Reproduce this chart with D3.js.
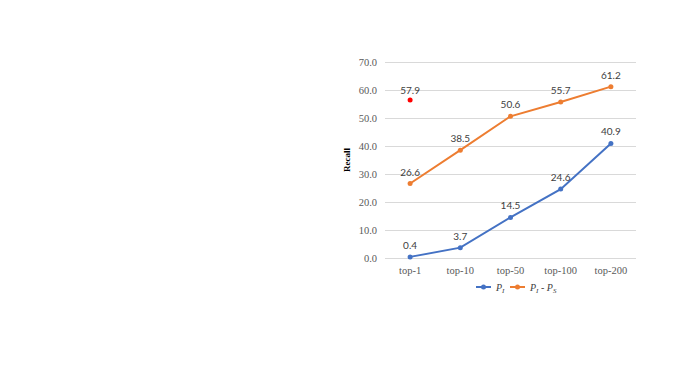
<!DOCTYPE html>
<meta charset="utf-8">
<head>
<script src="https://d3js.org/d3.v7.min.js"></script>
<style>
  body { margin: 0; background: #fff; }
  .grid line { stroke: #d9d9d9; stroke-width: 1px; }
  .tick-lab { font-family: "Liberation Serif", serif; font-size: 10.5px; fill: #595959; }
  .val { font-family: Lato, "Open Sans", sans-serif; font-size: 10px; fill: #404040; }
</style>
</head>
<body>
<div id="chart"></div>
<script>
// data
var categories = ["top-1", "top-10", "top-50", "top-100", "top-200"];
var pI = [0.4, 3.7, 14.5, 24.6, 40.9];
var pIpS = [26.6, 38.5, 50.6, 55.7, 61.2];
var extraValue = 56.4, extraLabel = "57.9";   // lone red point at top-1
var yTicks = [0, 10, 20, 30, 40, 50, 60, 70];

var W = 677, H = 379;
var margin = {top: 62, left: 385, right: 41, bottom: 121};
var width = W - margin.left - margin.right,
    height = H - margin.top - margin.bottom;

var svg = d3.select("#chart").append("svg")
    .attr("width", W).attr("height", H);
var g = svg.append("g")
    .attr("transform", "translate(" + margin.left + "," + margin.top + ")");

var x = d3.scaleBand().domain(categories).range([0, width]);
var y = d3.scaleLinear().domain([0, 70]).range([height, 0]);
var cx = d => x(d) + x.bandwidth() / 2;

// gridlines
g.append("g").attr("class", "grid")
  .selectAll("line").data(yTicks).enter().append("line")
  .attr("x1", 0).attr("x2", width)
  .attr("y1", d => y(d) + 0.5).attr("y2", d => y(d) + 0.5);

// y tick labels
g.selectAll(".ylab").data(yTicks).enter().append("text")
  .attr("class", "tick-lab")
  .attr("x", -8).attr("y", d => y(d)).attr("dy", "0.35em")
  .attr("text-anchor", "end")
  .text(d3.format(".1f"));

// x tick labels
g.selectAll(".xlab").data(categories).enter().append("text")
  .attr("class", "tick-lab")
  .attr("x", cx).attr("y", height + 16)
  .attr("text-anchor", "middle")
  .text(d => d);

// y title
svg.append("text")
  .attr("transform", "translate(350," + (margin.top + height / 2) + ") rotate(-90)")
  .attr("text-anchor", "middle")
  .style("font-family", "Liberation Serif, serif")
  .style("font-size", "9px").style("font-weight", "bold").style("fill", "#000")
  .text("Recall");

var line = d3.line().x((d, i) => cx(categories[i])).y(d => y(d));
var series = [{vals: pIpS, color: "#ed7d31"}, {vals: pI, color: "#4472c4"}];

series.forEach(function(s) {
  g.append("path").datum(s.vals)
    .attr("fill", "none").attr("stroke", s.color).attr("stroke-width", 2)
    .attr("d", line);
  g.selectAll(null).data(s.vals).enter().append("circle")
    .attr("cx", (d, i) => cx(categories[i])).attr("cy", d => y(d))
    .attr("r", 2.5).attr("fill", s.color);
  g.selectAll(null).data(s.vals).enter().append("text")
    .attr("class", "val")
    .attr("x", (d, i) => cx(categories[i])).attr("y", d => y(d) - 8)
    .attr("text-anchor", "middle")
    .text(d => d3.format(".1f")(d));
});

// red point
g.append("circle")
  .attr("cx", cx(categories[0])).attr("cy", y(extraValue))
  .attr("r", 2.5).attr("fill", "#ff0000");
g.append("text").attr("class", "val")
  .attr("x", cx(categories[0])).attr("y", y(extraValue) - 6)
  .attr("text-anchor", "middle").text(extraLabel);

// legend
var leg = svg.append("g").attr("transform", "translate(0,287)");
var legItems = [
  {x: 476, color: "#4472c4", sub: "I", text2: null},
  {x: 510, color: "#ed7d31", sub: "I", text2: "S"}
];
legItems.forEach(function(d) {
  leg.append("line").attr("x1", d.x).attr("x2", d.x + 15)
    .attr("stroke", d.color).attr("stroke-width", 2);
  leg.append("circle").attr("cx", d.x + 7.5).attr("r", 2.5).attr("fill", d.color);
  var t = leg.append("text").attr("x", d.x + 20).attr("y", 3.5)
    .style("font-family", "Liberation Serif, serif").style("font-size", "10px")
    .style("font-style", "italic").style("fill", "#404040");
  t.append("tspan").text("P");
  t.append("tspan").attr("dy", 2).style("font-size", "7px").text(d.sub);
  if (d.text2) {
    t.append("tspan").attr("dy", -2).text(" - P");
    t.append("tspan").attr("dy", 2).style("font-size", "7px").text(d.text2);
  }
});
</script>
</body>
</html>
